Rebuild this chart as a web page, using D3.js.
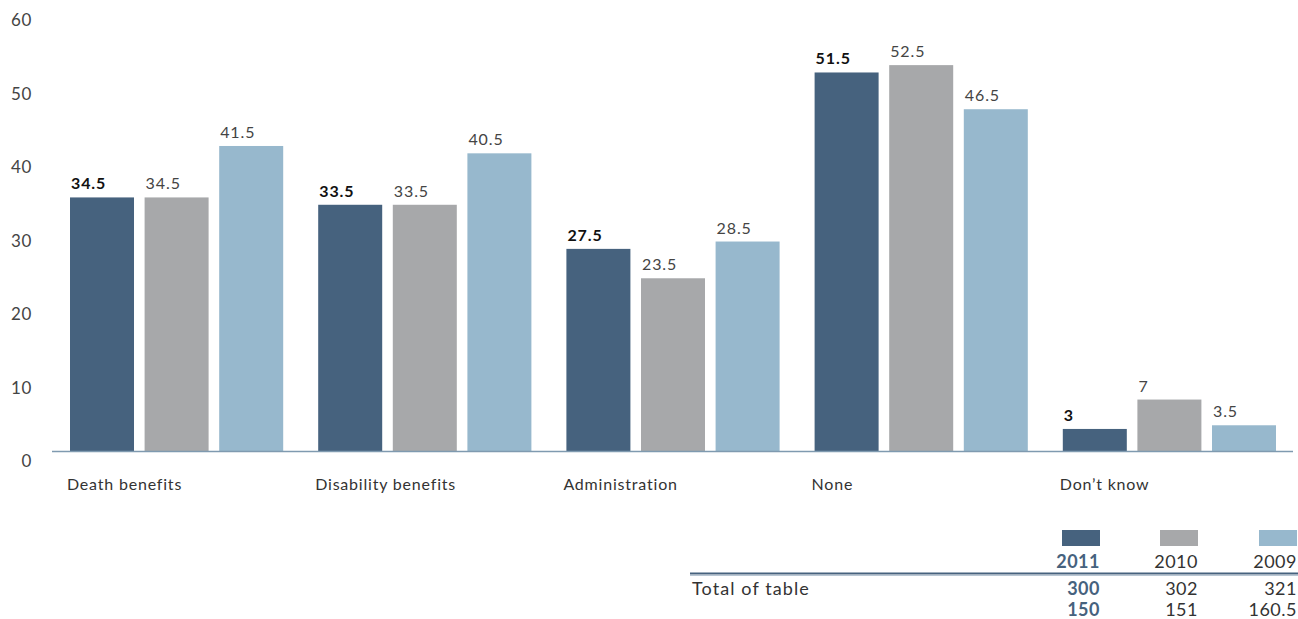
<!DOCTYPE html>
<html><head><meta charset="utf-8">
<script src="https://cdn.jsdelivr.net/npm/d3@7"></script>
<style>body{margin:0;background:#fff}svg{display:block;font-family:Lato,"Open Sans",sans-serif}</style>
</head><body><svg id="c" width="1298" height="619"></svg>
<script>
const categories = ["Death benefits","Disability benefits","Administration","None","Don\u2019t know"];
const years = ["2011","2010","2009"];
const values2011 = [34.5,33.5,27.5,51.5,3];
const values2010 = [34.5,33.5,23.5,52.5,7];
const values2009 = [41.5,40.5,28.5,46.5,3.5];
const yTicks = [0,10,20,30,40,50,60];
const totals = ["300","302","321"];
const halves = ["150","151","160.5"];
const colors = ["#46627e","#a7a8aa","#97b8cd"];
const series = [values2011, values2010, values2009];

const svg = d3.select("#c");
const x = d3.scaleBand().domain(categories).range([52,1293]).paddingInner(0).paddingOuter(0);
const xi = d3.scaleBand().domain(years).range([18, 248.2-17]).paddingInner(0.142);
const y = d3.scaleLinear().domain([0,60]).range([451,10]);

// y tick labels
svg.append("g").selectAll("text").data(yTicks).join("text")
  .attr("x",32).attr("y",d=>y(d)+16).attr("text-anchor","end")
  .attr("font-size",17).attr("letter-spacing",0.6).attr("fill","#444").text(d=>d);

// bars
categories.forEach((c,ci)=>{
  const g = svg.append("g").attr("transform",`translate(${x(c)},0)`);
  years.forEach((yr,si)=>{
    const v = series[si][ci];
    g.append("rect").attr("x",xi(yr)).attr("width",xi.bandwidth())
      .attr("y",y(v)).attr("height",y(0)-y(v)).attr("fill",colors[si]);
    g.append("text").attr("x",xi(yr)+1).attr("y",y(v)-8)
      .attr("font-size",16).attr("letter-spacing",0.9).attr("fill",si===0?"#111":"#444")
      .attr("font-weight",si===0?"bold":"normal").text(v);
  });
  svg.append("text").attr("x",x(c)+15).attr("y",490).attr("font-size",16).attr("letter-spacing",0.8)
    .attr("fill","#333").text(c);
});

// baseline
svg.append("line").attr("x1",52).attr("x2",1293).attr("y1",y(0)+0.5).attr("y2",y(0)+0.5)
  .attr("stroke","#7f9ab0").attr("stroke-width",1.5);

// legend table
const colRight = [1100,1198,1297];
years.forEach((yr,i)=>{
  const st = t=>t.attr("text-anchor","end").attr("font-size",18).attr("letter-spacing",0.5)
    .attr("fill",i===0?"#46627e":"#333").attr("font-weight",i===0?"bold":"normal");
  svg.append("rect").attr("x",colRight[i]-38).attr("y",530).attr("width",38).attr("height",16).attr("fill",colors[i]);
  svg.append("text").attr("x",colRight[i]).attr("y",568).call(st).text(yr);
  svg.append("text").attr("x",colRight[i]).attr("y",595).call(st).text(totals[i]);
  svg.append("text").attr("x",colRight[i]).attr("y",616).call(st).text(halves[i]);
});
svg.append("line").attr("x1",690).attr("x2",1298).attr("y1",573.5).attr("y2",573.5).attr("stroke","#46627e").attr("stroke-width",2);
svg.append("line").attr("x1",690).attr("x2",1298).attr("y1",575.5).attr("y2",575.5).attr("stroke","#b8c6d3").attr("stroke-width",1);
svg.append("text").attr("x",692).attr("y",595).attr("font-size",18).attr("letter-spacing",1.1).attr("fill","#333").text("Total of table");
</script></body></html>
